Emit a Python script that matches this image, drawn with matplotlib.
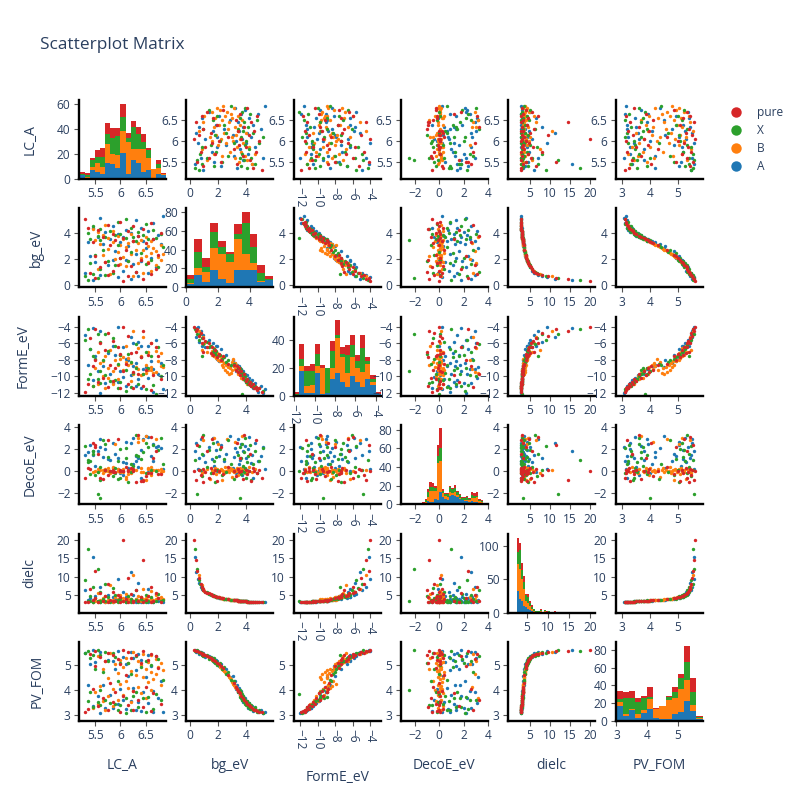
import matplotlib

matplotlib.use("Agg")
import matplotlib.pyplot as plt
import numpy as np
import pandas as pd
from matplotlib.lines import Line2D
from matplotlib.ticker import FuncFormatter

plt.rcParams["font.family"] = ["Open Sans", "DejaVu Sans"]

COLUMNS = ["LC_A", "bg_eV", "FormE_eV", "DecoE_eV", "dielc", "PV_FOM"]
GROUPS = ["A", "B", "X", "pure"]
COLORS = {"A": "#1f77b4", "B": "#ff7f0e", "X": "#2ca02c", "pure": "#d62728"}
TEXT = "#2a3f5f"

# ---- scatter points (A, B, X, pure blocks) ----
lc_a = [
    5.45, 6.20, 5.95, 6.35, 5.60, 6.55, 5.30, 6.05, 6.70, 5.75,
    6.25, 5.50, 6.40, 6.10, 5.85, 6.60, 5.40, 6.30, 5.90, 6.50,
    6.15, 5.65, 6.80, 6.00, 5.35, 6.45, 6.25, 5.80, 6.65, 6.05,
    5.55, 6.35, 6.75, 5.95, 6.20, 5.70, 6.55, 6.10, 5.45, 6.40,
    5.85, 6.65, 6.30, 5.60, 6.85,
    6.25, 5.80, 6.45, 6.60, 5.55, 6.10, 6.70, 6.00, 6.35, 5.70,
    6.55, 6.15, 6.80, 5.90, 6.40, 6.75, 6.05, 6.50, 5.65, 6.85,
    6.20, 6.60, 5.95, 6.70, 6.30, 6.45, 5.75, 6.65, 6.10, 6.55,
    6.00, 6.80, 5.60, 6.35, 6.15, 5.85, 6.60, 6.25, 5.50, 6.40,
    6.05, 5.75, 6.50, 5.95, 5.65, 6.20, 5.55, 5.85, 5.45, 5.70,
    5.35, 5.55, 5.30, 5.70, 5.45, 5.85, 6.30, 5.60, 6.75, 5.90,
    6.50, 5.40, 6.15, 5.75, 6.60, 6.00, 5.50, 6.40, 6.20, 5.65,
    6.85, 5.95, 6.30, 5.60, 6.55, 5.40, 6.10, 6.70, 5.70, 6.25,
    5.55, 6.45, 5.90, 6.80, 6.00, 5.35, 6.35, 5.80, 6.65, 5.60,
    6.20, 5.45, 6.50, 5.95, 6.10,
    6.05, 6.45, 5.50, 6.15, 5.75, 6.60, 5.40, 6.30, 5.85, 6.70,
    5.60, 6.20, 5.95, 6.55, 5.70, 6.40, 6.00, 5.50, 6.75, 6.10,
    5.80, 6.50, 5.45, 6.25, 5.90, 6.65, 6.05, 5.65, 6.35, 5.85,
    6.80, 6.15, 5.55, 6.45, 5.35, 6.25, 5.75, 6.60, 6.00, 5.30,
]
bg_ev = [
    0.35, 0.45, 0.60, 0.70, 0.80, 0.90, 0.95, 1.10, 1.35, 1.55,
    1.65, 1.75, 1.85, 1.90, 1.95, 2.10, 2.25, 2.40, 2.60, 2.85,
    3.05, 3.15, 3.20, 3.30, 3.35, 3.40, 3.45, 3.55, 3.60, 3.70,
    3.75, 3.80, 3.90, 3.95, 4.05, 4.15, 4.20, 4.30, 4.40, 4.45,
    4.60, 4.80, 5.05, 5.20, 5.35,
    0.65, 0.85, 0.95, 1.05, 1.25, 1.45, 1.55, 1.60, 1.70, 1.75,
    1.80, 1.85, 1.90, 1.98, 2.05, 2.15, 2.20, 2.28, 2.32, 2.38,
    2.42, 2.47, 2.55, 2.62, 2.68, 2.75, 2.82, 2.90, 2.96, 3.02,
    3.08, 3.12, 3.18, 3.22, 3.28, 3.33, 3.38, 3.42, 3.47, 3.52,
    3.58, 3.65, 3.72, 3.80, 3.88, 3.95, 4.08, 4.22, 4.38, 4.62,
    0.40, 0.55, 0.65, 0.75, 0.85, 0.90, 0.98, 1.20, 1.40, 1.52,
    1.62, 1.72, 1.82, 1.88, 1.96, 2.12, 2.30, 2.45, 2.58, 2.72,
    2.92, 3.12, 3.40, 3.52, 3.56, 3.60, 3.64, 3.68, 3.72, 3.76,
    3.82, 3.86, 3.90, 3.94, 3.98, 4.04, 4.12, 4.20, 4.28, 4.36,
    4.44, 4.58, 4.72, 4.90, 5.15,
    0.30, 0.42, 0.55, 0.68, 0.78, 0.88, 0.93, 0.97, 1.08, 1.22,
    1.35, 1.48, 1.58, 1.68, 1.78, 1.92, 2.08, 2.22, 2.35, 2.70,
    3.10, 3.25, 3.32, 3.40, 3.48, 3.54, 3.62, 3.74, 3.84, 3.96,
    4.06, 4.16, 4.26, 4.34, 4.46, 4.56, 4.66, 4.78, 4.92, 5.10,
]
forme_ev = [
    -4.1, -5.2, -4.0, -5.8, -4.5, -6.3, -5.0, -6.5, -5.6, -7.2,
    -5.9, -7.6, -6.3, -7.9, -6.3, -8.1, -6.7, -8.4, -7.4, -8.9,
    -8.0, -8.8, -8.4, -9.4, -8.6, -9.1, -8.8, -9.7, -9.1, -10.1,
    -9.4, -10.4, -9.7, -10.7, -9.9, -10.8, -10.2, -11.2, -10.5, -11.4,
    -10.8, -11.9, -11.2, -12.0, -11.6,
    -4.5, -6.8, -5.2, -6.0, -7.1, -6.3, -6.9, -7.4, -6.6, -7.6,
    -7.0, -7.8, -7.2, -8.0, -7.5, -8.2, -7.7, -8.6, -8.1, -8.9,
    -8.4, -9.2, -8.7, -9.5, -8.9, -9.8, -9.0, -9.6, -8.3, -9.3,
    -7.9, -8.8, -8.4, -9.1, -8.6, -9.4, -8.9, -9.7, -9.0, -9.9,
    -9.3, -10.2, -9.6, -10.4, -10.0, -10.6, -10.9, -11.0, -11.2, -11.5,
    -4.3, -4.8, -5.6, -4.9, -7.5, -5.4, -6.1, -5.8, -6.5, -6.3,
    -7.1, -6.7, -7.3, -6.9, -7.6, -7.4, -7.9, -7.7, -8.3, -8.0,
    -8.6, -8.5, -9.0, -9.4, -9.0, -9.8, -9.3, -12.2, -9.9, -9.6,
    -10.3, -9.8, -10.5, -10.0, -10.7, -10.3, -10.9, -10.6, -11.1, -10.8,
    -11.3, -11.2, -11.6, -11.4, -11.8,
    -4.0, -4.5, -4.2, -5.1, -4.7, -6.0, -5.3, -7.0, -5.7, -6.4,
    -6.0, -7.2, -6.5, -7.4, -6.8, -7.7, -7.3, -8.0, -7.6, -8.5,
    -8.7, -9.2, -8.8, -9.5, -9.0, -9.9, -9.4, -10.2, -9.8, -10.6,
    -10.3, -11.0, -10.7, -11.2, -11.0, -11.5, -11.3, -11.7, -11.5, -11.9,
]
decoe_ev = [
    1.8, 2.6, 0.2, 1.2, 2.9, -0.1, 1.5, 0.8, 2.2, 1.1,
    3.0, 0.5, 1.9, 2.7, 0.0, 1.4, 2.4, 0.9, 1.6, 3.2,
    0.3, 1.3, 2.1, -0.2, 1.7, 2.9, 0.6, 1.0, 2.5, -0.4,
    1.8, 0.4, 2.3, 1.2, 0.1, 2.0, 3.1, 0.7, 1.5, -0.6,
    2.6, 0.9, 1.4, 2.2, 0.2,
    0.12, -0.18, 2.8, 0.03, 0.22, -0.72, 0.08, -0.06, 3.0, -0.02,
    0.31, -0.27, 0.14, 2.5, -0.09, 0.05, 0.18, -0.84, 0.11, -0.04,
    -0.21, 0.38, 0.02, 2.9, 0.09, -0.13, 0.27, 0.06, -0.52, 0.19,
    -0.03, -0.11, 0.13, 2.7, 0.04, 0.24, -0.33, 0.07, -0.01, 0.29,
    -0.14, 0.01, 3.2, 0.16, -0.23, 0.10, -0.05, 0.34, -0.08, 0.15,
    1.0, -2.1, 2.3, 0.05, 1.6, -0.5, 3.3, 0.4, 1.9, -0.2,
    2.6, 0.9, -1.0, 1.3, 0.1, 2.0, -0.4, 1.1, -0.05, 2.8,
    0.6, -0.7, 1.5, -2.5, 2.2, -0.3, 1.2, 0.0, 2.5, 0.5,
    -0.1, 1.7, 0.3, 3.0, -0.6, 0.8, 1.4, 0.02, 2.4, -0.8,
    0.6, 1.8, -0.2, 0.9, 2.1,
    0.0, -0.8, 2.4, 0.1, -0.4, 3.1, 0.2, -1.0, -0.05, 1.8,
    -0.6, 0.3, 2.9, -0.2, 0.1, -0.9, 0.04, 2.2, -0.3, 0.4,
    -0.02, -0.5, 2.6, 0.2, -0.1, 1.2, 0.03, -0.7, 3.3, 0.1,
    -0.3, 0.0, 1.6, -0.9, 0.3, -0.04, 2.8, -0.2, 0.1, -0.6,
]
dielc = [
    15.5, 11.2, 9.3, 8.1, 7.2, 6.6, 6.2, 5.7, 5.2, 4.9,
    4.75, 4.55, 4.42, 4.30, 4.35, 4.08, 3.96, 3.88, 3.72, 3.58,
    3.49, 3.52, 3.41, 3.38, 3.44, 3.31, 3.27, 3.33, 3.22, 3.18,
    3.24, 3.15, 3.11, 3.08, 3.12, 3.05, 3.02, 2.98, 3.04, 2.95,
    2.92, 2.89, 2.86, 2.84, 2.82,
    10.5, 7.6, 6.5, 6.0, 5.5, 5.1, 4.9, 4.8, 4.7, 4.6,
    4.5, 4.45, 4.4, 4.3, 4.2, 4.1, 4.05, 4.0, 3.95, 3.9,
    3.88, 3.85, 3.8, 3.76, 3.7, 3.66, 3.62, 3.58, 3.55, 3.5,
    3.48, 3.45, 3.42, 3.4, 3.38, 3.36, 3.34, 3.32, 3.3, 3.28,
    3.25, 3.22, 3.2, 3.17, 3.14, 3.1, 3.07, 3.03, 2.98, 2.93,
    17.5, 12.0, 9.0, 8.0, 7.0, 6.8, 6.3, 5.6, 5.2, 5.0,
    4.8, 4.7, 4.5, 4.4, 4.3, 4.1, 4.0, 3.9, 3.8, 3.7,
    3.6, 3.5, 3.4, 3.33, 3.31, 3.29, 3.27, 3.25, 3.23, 3.21,
    3.19, 3.17, 3.14, 3.12, 3.1, 3.08, 3.05, 3.03, 3.0, 2.97,
    2.95, 2.92, 2.9, 2.87, 2.84,
    20.0, 14.5, 11.5, 9.5, 8.0, 7.0, 6.5, 6.2, 5.8, 5.5,
    5.3, 5.1, 4.9, 4.7, 4.6, 4.4, 4.2, 4.1, 4.0, 3.7,
    3.5, 3.42, 3.38, 3.35, 3.3, 3.26, 3.23, 3.18, 3.15, 3.1,
    3.07, 3.04, 3.0, 2.97, 2.95, 2.92, 2.9, 2.88, 2.86, 2.82,
]
pv_fom = [
    5.58, 5.50, 5.56, 5.42, 5.49, 5.38, 5.45, 5.30, 5.34, 5.18,
    5.26, 5.10, 5.18, 5.04, 5.14, 4.94, 5.02, 4.80, 4.85, 4.50,
    4.55, 4.20, 4.35, 4.02, 4.18, 3.90, 4.08, 3.80, 3.95, 3.62,
    3.78, 3.52, 3.68, 3.44, 3.58, 3.30, 3.48, 3.24, 3.38, 3.18,
    3.30, 3.12, 3.20, 3.08, 3.14,
    5.52, 5.46, 5.41, 5.38, 5.33, 5.27, 5.22, 5.20, 5.15, 5.13,
    5.11, 5.08, 5.05, 5.02, 4.98, 4.92, 4.90, 4.85, 4.82, 4.78,
    4.76, 4.72, 4.68, 4.62, 4.58, 4.52, 4.48, 4.42, 4.36, 4.30,
    4.24, 4.18, 4.15, 4.10, 4.06, 4.02, 3.98, 3.95, 3.90, 3.86,
    3.80, 3.75, 3.70, 3.62, 3.58, 3.52, 3.45, 3.38, 3.30, 3.22,
    5.55, 5.58, 5.46, 5.52, 5.40, 5.47, 5.33, 5.40, 5.22, 5.32,
    5.14, 5.25, 5.05, 5.16, 5.00, 5.08, 4.84, 4.92, 4.64, 4.72,
    4.40, 4.34, 3.90, 4.00, 3.74, 3.90, 3.68, 3.84, 3.60, 3.76,
    3.54, 3.70, 3.46, 3.62, 3.42, 3.56, 3.32, 3.48, 3.26, 3.40,
    3.20, 3.32, 3.12, 3.22, 3.10,
    5.60, 5.56, 5.53, 5.50, 5.46, 5.43, 5.41, 5.39, 5.37, 5.33,
    5.31, 5.27, 5.22, 5.18, 5.14, 5.07, 5.01, 4.94, 4.86, 4.60,
    4.28, 4.12, 4.04, 3.97, 3.92, 3.86, 3.78, 3.68, 3.60, 3.51,
    3.45, 3.41, 3.35, 3.31, 3.26, 3.22, 3.19, 3.16, 3.14, 3.12,
]
group = ["A"] * 45 + ["B"] * 50 + ["X"] * 45 + ["pure"] * 40

df = pd.DataFrame({
    "LC_A": lc_a, "bg_eV": bg_ev, "FormE_eV": forme_ev,
    "DecoE_eV": decoe_ev, "dielc": dielc, "PV_FOM": pv_fom, "group": group,
})

# ---- stacked histogram counts (bin start, bin width, counts per group) ----
lc_bins = (5.2, 0.1)
lc_counts = {
    "A": [3, 0, 7, 6, 4, 13, 12, 9, 21, 4, 15, 13, 6, 7, 0, 4, 3],
    "B": [0, 2, 3, 7, 6, 15, 8, 10, 18, 26, 9, 11, 18, 10, 8, 5, 1],
    "X": [1, 1, 5, 5, 8, 8, 13, 16, 11, 3, 18, 12, 6, 6, 0, 3, 0],
    "pure": [2, 2, 2, 5, 7, 9, 8, 6, 10, 4, 5, 6, 6, 2, 0, 3, 1],
}
bg_bins = (0.0, 0.5)
bg_counts = {
    "A": [4, 13, 6, 18, 9, 5, 18, 18, 18, 6, 8],
    "B": [1, 7, 10, 24, 26, 22, 33, 17, 8, 1, 0],
    "X": [4, 17, 6, 17, 8, 8, 5, 33, 17, 8, 1],
    "pure": [4, 14, 9, 9, 6, 2, 11, 12, 13, 9, 3],
}
forme_bins = (-12.0, 0.5)
forme_counts = {
    "A": [0, 18, 2, 2, 16, 1, 2, 12, 16, 10, 6, 14, 10, 6, 12, 8, 1],
    "B": [0, 3, 5, 6, 5, 19, 0, 8, 25, 18, 10, 14, 10, 11, 11, 2, 0],
    "X": [1, 5, 11, 10, 9, 0, 18, 12, 2, 2, 13, 8, 5, 17, 2, 2, 0],
    "pure": [2, 11, 3, 5, 7, 2, 0, 7, 11, 5, 7, 7, 4, 9, 3, 3, 2],
}
decoe_bins = (-3.0, 0.2)
decoe_counts = {
    "A": [0, 0, 0, 0, 0, 0, 0, 0, 0, 1, 3, 2, 2, 6, 4, 13, 8,
          6, 5, 9, 10, 9, 8, 6, 4, 3, 3, 2, 3, 2, 2, 1, 1, 0],
    "B": [0, 0, 0, 0, 0, 0, 0, 0, 0, 1, 5, 12, 12, 8, 40, 34, 4,
          3, 3, 4, 2, 4, 2, 1, 1, 1, 2, 2, 4, 5, 6, 2, 1, 0],
    "X": [1, 0, 0, 1, 0, 0, 0, 0, 1, 3, 5, 4, 4, 3, 8, 13, 2,
          2, 3, 6, 4, 4, 3, 3, 2, 3, 3, 2, 3, 2, 1, 1, 1, 0],
    "pure": [0, 0, 0, 0, 0, 0, 0, 0, 1, 1, 3, 6, 5, 3, 12, 22, 2,
             1, 1, 1, 1, 4, 1, 1, 1, 1, 1, 1, 3, 3, 4, 2, 1, 0],
}
dielc_bins = (2.5, 0.5)
dielc_counts = {
    "A": [33, 20, 18, 10, 8, 5, 4, 2, 1, 0, 1, 1, 0, 1, 0, 1, 0, 0,
          1, 0, 0, 0, 0, 0, 0, 0, 0, 0, 0, 0, 0, 0, 0, 0, 0],
    "B": [40, 46, 32, 26, 10, 10, 6, 4, 2, 1, 0, 1, 0, 1, 1, 0, 1, 0,
          0, 0, 0, 1, 0, 0, 0, 0, 0, 0, 0, 0, 0, 0, 0, 0, 0],
    "X": [18, 29, 14, 10, 8, 8, 5, 3, 2, 1, 1, 2, 0, 2, 0, 1, 0, 1,
          0, 0, 0, 0, 1, 0, 0, 0, 0, 0, 0, 0, 0, 0, 0, 0, 0],
    "pure": [22, 10, 10, 9, 2, 5, 3, 3, 1, 1, 0, 1, 1, 0, 1, 1, 0, 0,
             1, 0, 1, 0, 0, 0, 0, 1, 0, 0, 0, 0, 1, 0, 1, 0, 1],
}
pv_bins = (3.0, 0.2)
pv_counts = {
    "A": [17, 6, 12, 3, 9, 14, 3, 2, 2, 8, 10, 23, 11, 2],
    "B": [4, 2, 2, 5, 3, 11, 10, 15, 22, 18, 26, 23, 7, 1],
    "X": [4, 18, 12, 13, 14, 2, 0, 0, 3, 7, 13, 21, 15, 1],
    "pure": [9, 7, 8, 5, 2, 11, 2, 0, 1, 5, 4, 17, 15, 2],
}

hists = {
    "LC_A": (lc_bins, lc_counts),
    "bg_eV": (bg_bins, bg_counts),
    "FormE_eV": (forme_bins, forme_counts),
    "DecoE_eV": (decoe_bins, decoe_counts),
    "dielc": (dielc_bins, dielc_counts),
    "PV_FOM": (pv_bins, pv_counts),
}

# axis ranges and ticks, as shown in the reference
x_range = {"LC_A": (5.18, 6.9), "bg_eV": (-0.23, 5.9), "FormE_eV": (-12.76, -2.83),
           "DecoE_eV": (-3.15, 4.0), "dielc": (-0.3, 21.3), "PV_FOM": (2.78, 5.87)}
y_range = {"LC_A": (5.09, 6.99), "bg_eV": (-0.2, 5.95), "FormE_eV": (-12.4, -2.76),
           "DecoE_eV": (-3.05, 4.2), "dielc": (0.0, 21.9), "PV_FOM": (2.77, 5.9)}
hist_x_range = {"LC_A": (5.18, 6.9), "bg_eV": (0.0, 5.5), "FormE_eV": (-12.07, -3.5),
                "DecoE_eV": (-3.15, 4.0), "dielc": (0.5, 21.3), "PV_FOM": (2.97, 5.8)}
hist_y_top = {"LC_A": 63.6, "bg_eV": 83.5, "FormE_eV": 56.3, "DecoE_eV": 85,
              "dielc": 119, "PV_FOM": 89}
ticks = {"LC_A": [5.5, 6, 6.5], "bg_eV": [0, 2, 4], "FormE_eV": [-12, -10, -8, -6, -4],
         "DecoE_eV": [-2, 0, 2, 4], "dielc": [5, 10, 15, 20], "PV_FOM": [3, 4, 5]}
hist_yticks = {"LC_A": [0, 20, 40, 60], "bg_eV": [0, 20, 40, 60, 80],
               "FormE_eV": [0, 20, 40], "DecoE_eV": [0, 20, 40, 60, 80],
               "dielc": [0, 50, 100], "PV_FOM": [0, 20, 40, 60, 80]}

fmt = FuncFormatter(lambda v, pos: f"{v:g}".replace("-", "\u2212"))

W, H = 800, 800
fig = plt.figure(figsize=(8, 8), dpi=100)
fig.text(40 / W, 1 - 45 / H, "Scatterplot Matrix", fontsize=12.4, color=TEXT, va="center")

for i, row_var in enumerate(COLUMNS):
    for j, col_var in enumerate(COLUMNS):
        left = 79 + 107.3 * j
        top = 100 + 108.4 * i
        ax = fig.add_axes([left / W, 1 - (top + 79) / H, 87 / W, 79 / H])
        if i == j:
            (start, width), counts = hists[col_var]
            nbins = len(counts["A"])
            lefts = np.round(start + width * np.arange(nbins), 3)
            bottom = np.zeros(nbins)
            for g in GROUPS:
                ax.bar(lefts, counts[g], width=width, bottom=bottom, align="edge",
                       color=COLORS[g], linewidth=0)
                bottom = bottom + np.array(counts[g])
            ax.set_xlim(*hist_x_range[col_var])
            ax.set_ylim(0, hist_y_top[col_var])
            ax.set_yticks(hist_yticks[col_var])
        else:
            for g in GROUPS:
                sub = df[df["group"] == g]
                ax.scatter(sub[col_var], sub[row_var], s=6, color=COLORS[g],
                           linewidths=0, zorder=2)
            ax.set_xlim(*x_range[col_var])
            ax.set_ylim(*y_range[row_var])
            ax.set_yticks(ticks[row_var])
        ax.set_xticks(ticks[col_var])
        ax.xaxis.set_major_formatter(fmt)
        ax.yaxis.set_major_formatter(fmt)

        for side in ("top", "right"):
            ax.spines[side].set_visible(False)
        for side in ("left", "bottom"):
            ax.spines[side].set_linewidth(1.7)
            ax.spines[side].set_color("black")
        ax.tick_params(direction="out", length=3.6, width=0.8, color="#555555",
                       labelsize=8.6, labelcolor=TEXT, pad=2.5)
        if col_var == "FormE_eV":
            for lab in ax.get_xticklabels():
                lab.set_rotation(-90)
                lab.set_va("top")
                lab.set_ha("center")

        if j == 0:
            ax.set_ylabel(row_var, fontsize=10, color=TEXT, labelpad=14)
        if i == len(COLUMNS) - 1:
            ax.set_xlabel(col_var, fontsize=10, color=TEXT, va="center")
            ax.xaxis.set_label_coords(0.5, -0.71 if col_var == "FormE_eV" else -0.557)

handles = [Line2D([], [], marker="o", linestyle="", markersize=7.5,
                  markerfacecolor=COLORS[g], markeredgewidth=0) for g in GROUPS[::-1]]
fig.legend(handles, GROUPS[::-1], loc="upper left", bbox_to_anchor=(730 / W, 1 - 106 / H),
           frameon=False, fontsize=8.6, labelcolor=TEXT, handlelength=1.0,
           handletextpad=1.25, labelspacing=0.42, borderpad=0, borderaxespad=0)

fig.savefig("out.png", dpi=100)
plt.close(fig)
